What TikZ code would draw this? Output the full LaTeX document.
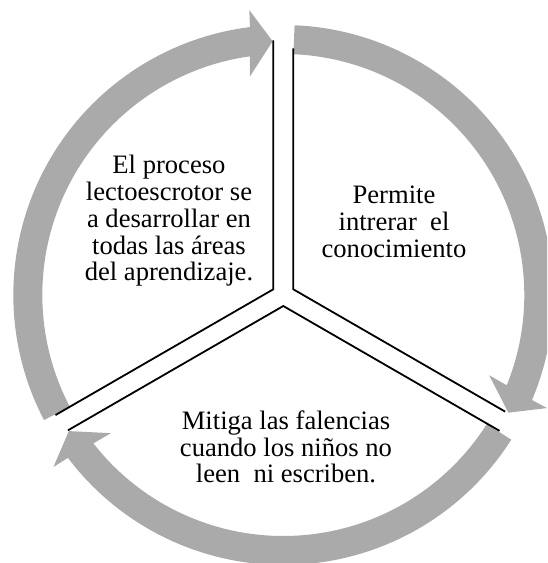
\documentclass[tikz,border=0pt]{standalone}
\usepackage{fontspec}
\setmainfont{Liberation Serif}
\usepackage{xcolor}
\usepackage{tikz}

\definecolor{ringgray}{RGB}{170,170,170}

\begin{document}
\begin{tikzpicture}[
  x=1pt, y=1pt,
  ringarrow/.style={fill=ringgray},
  sectoredge/.style={draw, line width=1.8pt},
  sectortext/.style={align=center, font=\fontsize{26.6}{26.7}\selectfont}
]
\useasboundingbox (-283.3,-268) rectangle (263.7,295);
\fill[white] (-283.3,-268) rectangle (263.7,295);
\clip (-283.3,-268) rectangle (263.7,295);

% circular arrows, one per sector (tip angle)
\foreach \t in {92.4,-27.6,212.4} {
  \fill[ringarrow] (\t+115.2:270) arc[start angle=\t+115.2, end angle=\t+4.7, radius=270]
    -- (\t+4.4:287) -- (\t:254) -- (\t+6.3:221) -- (\t+5.6:241)
    arc[start angle=\t+5.6, end angle=\t+115.2, radius=241] -- cycle;
}

% sector edges
\draw[sectoredge, shift={(-10,5.7)}] (90:249) -- (0,0) -- (210:251.5);
\draw[sectoredge, shift={(10,5.7)}] (90:241) -- (0,0) -- (-30:244.6);
\draw[sectoredge, shift={(0,-11)}] (-30:249.7) -- (0,0) -- (210:248.7);

\node[sectortext] (proceso) at (-114.3,74) {El proceso\\lectoescrotor se\\a desarrollar en\\todas las áreas\\del aprendizaje.};
\node[sectortext] (permite) at (110.7,73) {Permite\\intrerar\ \ el\\conocimiento};
\node[sectortext] (mitiga) at (2.7,-152) {Mitiga las falencias\\cuando los niños no\\leen\ \ ni escriben.};

\end{tikzpicture}
\end{document}
